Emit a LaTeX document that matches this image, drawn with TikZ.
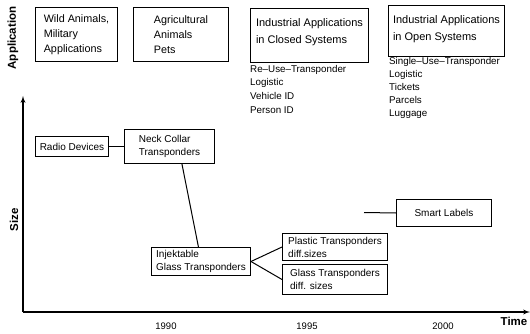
\documentclass[tikz,border=0pt]{standalone}
\usepackage{fontspec}
\setmainfont{Liberation Sans}
\usepackage{tikz}
\usetikzlibrary{arrows,positioning}

\begin{document}
\begin{tikzpicture}[x=1pt,y=-1pt]
\tikzset{
    bloque/.style={rectangle, draw=black, line width=1pt, inner sep=2pt, align=left,
                   font=\fontsize{10}{13}\selectfont},
    grande/.style={bloque, anchor=north west, font=\fontsize{10.8}{15}\selectfont},
    linea/.style={line width=1pt},
    eje/.style={->, >=latex', line width=1.3pt},
    lista/.style={anchor=north west, inner sep=0pt, align=left, font=\fontsize{9.8}{13.6}\selectfont},
    etiqueta/.style={font=\fontsize{9.5}{11}\selectfont},
    titulo/.style={font=\bfseries\fontsize{11.5}{13}\selectfont}
}
\useasboundingbox (0,0) rectangle (530,334);

\node[grande, minimum width=82pt, minimum height=54pt] (wild) at (35,7) {Wild Animals,\\Military\\Applications};
\node[grande, minimum width=95pt, minimum height=54pt] (agri) at (133,7) {Agricultural\\Animals\\Pets};
\node[grande, minimum width=118pt, minimum height=54pt, text depth=8pt, font=\fontsize{11}{17}\selectfont] (closed) at (250,8) {Industrial Applications\\in Closed Systems};
\node[grande, minimum width=116pt, minimum height=51pt, text depth=6pt, font=\fontsize{11}{17}\selectfont] (open) at (388,5) {Industrial Applications\\in Open Systems};
\node[lista] (listaclosed) at (250,65) {Re--Use--Transponder\\Logistic\\Vehicle ID\\Person ID};
\node[lista, font=\fontsize{9.8}{13}\selectfont] (listaopen) at (389,57) {Single--Use--Transponder\\Logistic\\Tickets\\Parcels\\Luggage};

\node[bloque, anchor=north west, minimum width=73pt, minimum height=20pt] (radio) at (35,136) {Radio Devices};
\node[bloque, right=15pt of radio, minimum width=90pt, minimum height=33pt] (neck) {Neck Collar\\Transponders};
\node[bloque, anchor=north west, minimum width=99pt, minimum height=28pt] (inj) at (151,247) {Injektable\\Glass Transponders};
\node[bloque, anchor=north west, minimum width=105pt, minimum height=27pt] (plastic) at (282,233) {Plastic Transponders\\diff.sizes};
\node[bloque, below=3pt of plastic, minimum width=105pt, minimum height=30pt] (glass) {Glass Transponders\\diff. sizes};
\node[bloque, anchor=north west, minimum width=95pt, minimum height=27pt] (smart) at (396,199) {Smart Labels};
\coordinate (smartin) at (364,212.5);

\draw[linea] (radio) -- (neck);
\draw[linea] (neck.-54) -- (inj.100);
\draw[linea] (inj.east) -- (plastic.west);
\draw[linea] (inj.east) -- (glass.west);
\draw[linea] (smartin) -- (smart.west);

\coordinate (origen) at (23,312);
\draw[eje] (origen) -- (23,96);
\draw[eje] (origen) -- (530,312);

\node[etiqueta] (y1990) at (166,326) {1990};
\node[etiqueta] (y1995) at (307,326) {1995};
\node[etiqueta] (y2000) at (443,326) {2000};
\node[titulo] (tiempo) at (514,321) {Time};
\node[titulo, rotate=90] (tam) at (14,220) {Size};
\node[titulo, rotate=90] (aplic) at (13,38) {Application};

\end{tikzpicture}
\end{document}
